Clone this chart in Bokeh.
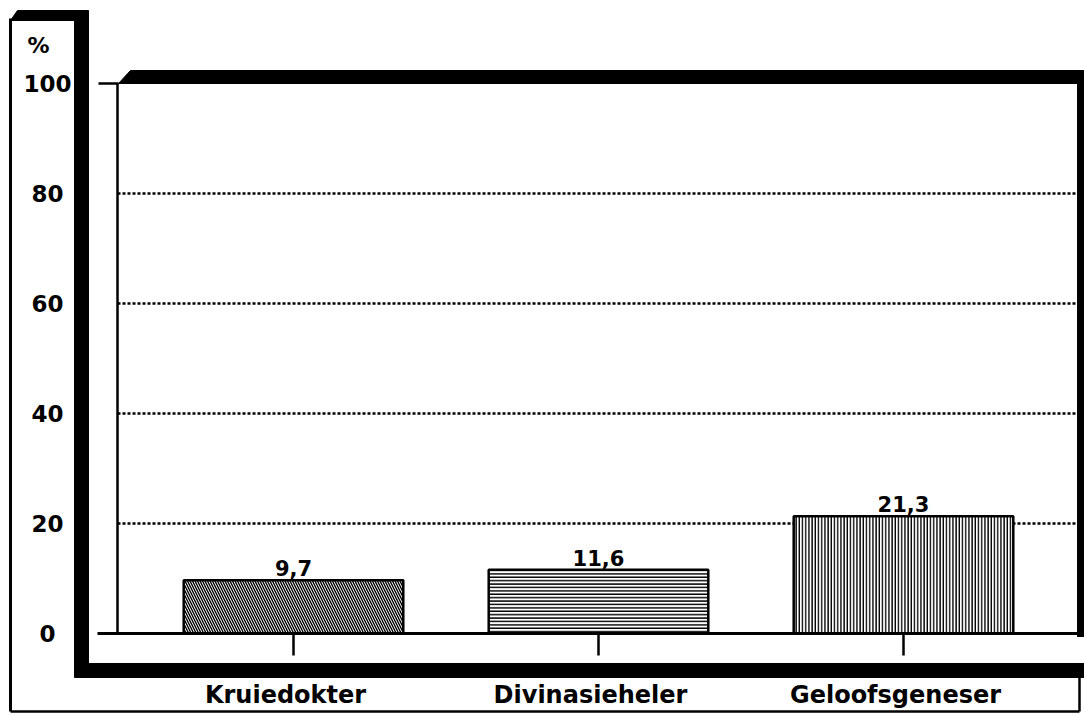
from bokeh.plotting import figure
from bokeh.models import Range1d
from bokeh.core.properties import value
from bokeh.embed import file_html
from bokeh.resources import INLINE

# ---- data ----
categories = ["Kruiedokter", "Divinasieheler", "Geloofsgeneser"]
percentages = [9.7, 11.6, 21.3]
value_labels = ["9,7", "11,6", "21,3"]
y_ticks = [0, 20, 40, 60, 80, 100]
y_tick_labels = ["0", "20", "40", "60", "80", "100"]
grid_values = [20, 40, 60, 80]
hatches = ["\\", "-", "|"]
hatch_scales = [5.0, 3.4, 3.2]
hatch_weights = [1.4, 1.5, 1.5]

xs = list(range(len(categories)))

# reference-pixel helpers for the frame decorations (not data marks)
def X(px):
    return (px - 293) / 305.0

def Y(py):
    return (633 - py) / 5.5

W, H = 1084, 714
p = figure(width=W, height=H, x_range=Range1d(X(0), X(1084)), y_range=Range1d(Y(714), Y(0)),
           min_border=0, toolbar_location=None, output_backend="svg",
           x_axis_location=None, y_axis_location=None)
p.grid.visible = False
p.outline_line_color = None
p.background_fill_color = "white"
p.border_fill_color = "white"

FONT = value("DejaVu Sans")

# ---- decorations: left panel ----
p.patch([X(10), X(17), X(88), X(88), X(74), X(74)],
        [Y(20), Y(10), Y(10), Y(663), Y(663), Y(20)], color="black", line_width=1)
p.segment(x0=[X(10)], y0=[Y(18)], x1=[X(10)], y1=[Y(711)], line_color="black", line_width=3)
# bottom thick bar
p.quad(left=[X(74)], right=[X(1084)], top=[Y(663)], bottom=[Y(677)], color="black")
# label box
p.segment(x0=[X(10), X(1079)], y0=[Y(711), Y(677)], x1=[X(1079), X(1079)], y1=[Y(711), Y(711)],
          line_color="black", line_width=2.5)
# main box top & right thick borders
p.patch([X(118), X(130), X(1084), X(1084), X(1077), X(1077)],
        [100, Y(70), Y(70), Y(636), Y(636), 100], color="black", line_width=1)

# gridlines
p.segment(x0=[X(117)] * len(grid_values), y0=grid_values, x1=[X(1077)] * len(grid_values), y1=grid_values,
          line_color="black", line_width=2.5, line_dash="3 2")

# frame left line, 100 tick, baseline
p.segment(x0=[X(117)], y0=[0], x1=[X(117)], y1=[100], line_color="black", line_width=2.5)
p.segment(x0=[X(98)], y0=[100], x1=[X(118)], y1=[100], line_color="black", line_width=2.5)

# bars
for i in xs:
    p.vbar(x=[xs[i]], top=[percentages[i]], bottom=0, width=0.72,
           fill_color="white", line_color="black", line_width=2.5,
           hatch_pattern=hatches[i], hatch_color="black", hatch_scale=hatch_scales[i],
           hatch_weight=hatch_weights[i])

p.segment(x0=[X(97)], y0=[0], x1=[X(1080)], y1=[0], line_color="black", line_width=3)

# category ticks
p.segment(x0=xs, y0=[0] * len(xs), x1=xs, y1=[Y(655)] * len(xs), line_color="black", line_width=2.5)

# value labels
p.text(x=xs, y=percentages, text=value_labels, text_align="center", text_baseline="alphabetic",
       y_offset=-12, text_font=FONT, text_font_style="bold", text_font_size="21px", text_color="black")

# y tick labels
p.text(x=[X(47)] * len(y_ticks), y=y_ticks, text=y_tick_labels, text_align="center",
       text_baseline="middle", text_font=FONT, text_font_style="bold",
       text_font_size="23px", text_color="black")
p.text(x=[X(38)], y=[Y(45)], text=["%"], text_align="center", text_baseline="middle",
       text_font=FONT, text_font_style="bold", text_font_size="22px", text_color="black")

# category labels
p.text(x=xs, y=[Y(694)] * len(xs), text=categories, text_align="center", text_baseline="middle",
       x_offset=-8, text_font=FONT, text_font_style="bold", text_font_size="24px", text_color="black")

open("out.html", "w").write(file_html(p, INLINE))
